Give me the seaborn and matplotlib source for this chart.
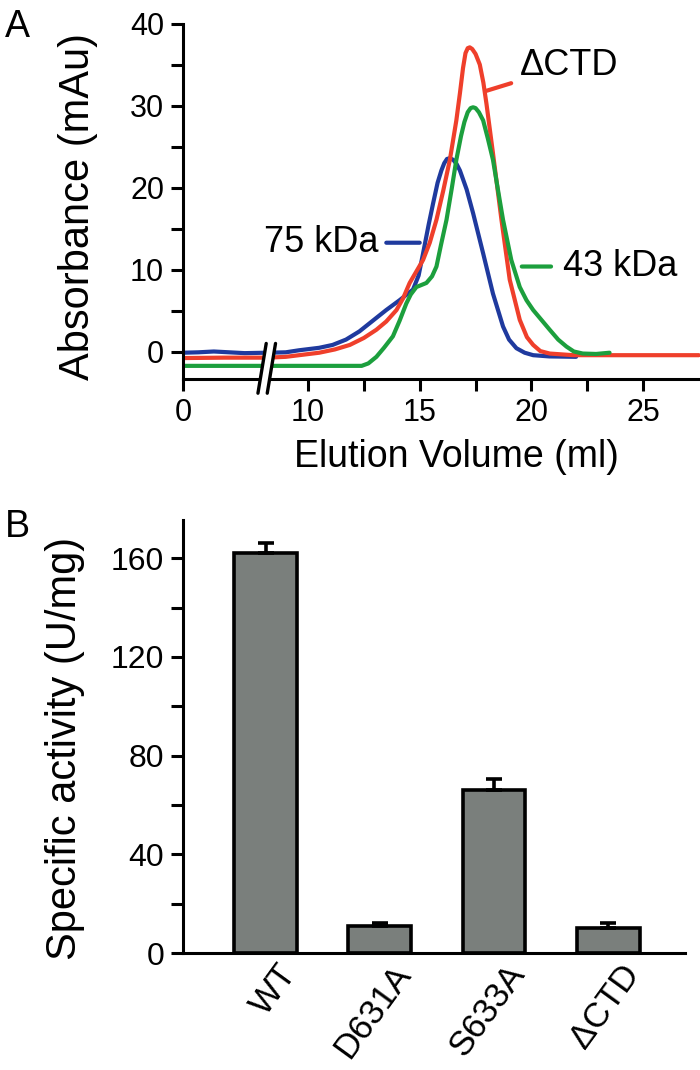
import numpy as np
import pandas as pd
import seaborn as sns
import matplotlib.pyplot as plt
import matplotlib.transforms as mtransforms

# ---- Panel A: gel filtration traces (elution volume in ml, absorbance in mAu)
blue_ml = [0, 1.5, 3, 4.5, 6, 8.1, 8.2, 9.0, 9.6, 10.5, 11.1, 11.7, 12.3, 12.9, 13.5, 14.1,
           14.7, 14.95, 15.15, 15.4, 15.6, 15.8, 15.97, 16.1, 16.22, 16.35, 16.5, 16.65,
           16.8, 17.1, 17.39, 17.84, 18.28, 18.73, 19.0, 19.33, 19.7, 20.08, 20.8, 22.0]
blue_mau = [-0.1, -0.05, 0.05, -0.05, -0.15, -0.1, -0.1, -0.05, 0.2, 0.5, 0.85, 1.5, 2.5, 3.8,
            5.1, 6.3, 7.6, 9.3, 12.0, 15.5, 18.1, 20.6, 22.1, 23.0, 23.5, 23.6, 23.4, 22.9,
            22.1, 19.8, 16.9, 12.0, 7.1, 3.1, 1.5, 0.45, -0.1, -0.4, -0.55, -0.6]

red_ml = [0, 4, 8.1, 8.2, 9.0, 9.6, 10.5, 11.2, 11.87, 12.5, 13.06, 13.5, 13.96, 14.25, 14.55,
          14.85, 15.15, 15.45, 15.75, 16.05, 16.35, 16.64, 16.8, 16.94, 17.05, 17.15, 17.24,
          17.35, 17.5, 17.69, 17.85, 17.99, 18.28, 18.66, 19.03, 19.48, 19.8, 20.08, 20.4,
          20.82, 21.87, 27.5]
red_mau = [-0.75, -0.7, -0.7, -0.7, -0.6, -0.4, -0.1, 0.3, 0.85, 1.7, 2.7, 3.7, 5.1, 6.5, 8.4,
           9.8, 11.2, 13.3, 16.1, 19.6, 23.4, 28.2, 31.5, 34.6, 36.4, 37.0, 37.1,
           36.9, 36.3, 35.0, 32.8, 30.2, 24.2, 16.1, 8.8, 3.9, 1.8, 0.85, 0.1,
           -0.2, -0.4, -0.4]

green_ml = [0, 8.1, 8.2, 12.4, 12.7, 13.06, 13.4, 13.8, 14.1, 14.4, 14.6, 14.85, 15.3, 15.55,
            15.75, 15.95, 16.2, 16.44, 16.64, 16.85, 17.0, 17.15, 17.28, 17.39, 17.5, 17.65,
            17.84, 18.05, 18.28, 18.5, 18.73, 19.1, 19.48, 19.78, 20.08, 20.45, 20.82, 21.2,
            21.57, 21.9, 22.3, 22.9, 23.5]
green_mau = [-1.7, -1.7, -1.7, -1.7, -1.4, -0.6, 0.5, 1.9, 3.8, 5.9, 7.0, 7.9, 8.4, 9.2,
             10.4, 13.0, 16.1, 20.0, 23.4, 26.3, 28.0, 29.2, 29.7, 29.8, 29.7, 29.2,
             28.2, 26.0, 23.4, 19.8, 16.1, 11.2, 7.9, 6.3, 5.1, 3.9, 2.7, 1.5,
             0.65, 0.05, -0.2, -0.25, -0.1]

trace_names = ['75 kDa', 'ΔCTD', '43 kDa']
trace_colors = ['#1f3a9e', '#ef3f2b', '#1c9f3d']

# ---- Panel B: specific activity
variants = ['WT', 'D631A', 'S633A', 'ΔCTD']
activity = [162, 11, 66, 10]
activity_err = [4.2, 1.0, 4.6, 2.2]

sns.set_style('ticks')
plt.rcParams['font.family'] = ['Liberation Sans', 'DejaVu Sans']
plt.rcParams.update({
    'axes.linewidth': 2.2,
    'axes.edgecolor': 'black',
    'axes.labelcolor': 'black',
    'text.color': 'black',
    'xtick.color': 'black',
    'ytick.color': 'black',
})

fig = plt.figure(figsize=(7, 10.7), dpi=100)
axA = fig.add_axes([0.2614, 0.6458, 0.7386, 0.3322])
axB = fig.add_axes([0.2614, 0.1093, 0.7171, 0.4047])

# broken x axis: the 0 - 8 ml stretch is squeezed into a short segment
X_BREAK = 8.15
U0 = 4.4


def fwd(x):
    x = np.asarray(x, dtype=float)
    return np.where(x < X_BREAK, U0 + x * (X_BREAK - U0) / X_BREAK, x)


def inv(u):
    u = np.asarray(u, dtype=float)
    return np.where(u < X_BREAK, (u - U0) * X_BREAK / (X_BREAK - U0), u)


df = pd.concat([
    pd.DataFrame({'ml': blue_ml, 'mAu': blue_mau, 'trace': trace_names[0]}),
    pd.DataFrame({'ml': red_ml, 'mAu': red_mau, 'trace': trace_names[1]}),
    pd.DataFrame({'ml': green_ml, 'mAu': green_mau, 'trace': trace_names[2]}),
])

axA.set_xscale('function', functions=(fwd, inv))
sns.lineplot(data=df, x='ml', y='mAu', hue='trace', hue_order=trace_names,
             palette=trace_colors, estimator=None, sort=False, legend=False,
             lw=3.0, ax=axA)
for ln in axA.get_lines():
    ln.set_solid_capstyle('round')
    ln.set_solid_joinstyle('round')

axA.set_xlim(0, 27.55)
axA.set_ylim(-3.3, 40)
axA.set_xticks([0, 10, 15, 20, 25])
axA.set_xticks([12.5, 17.5, 22.5], minor=True)
axA.set_xticklabels(['0', '10', '15', '20', '25'])
axA.set_yticks([0, 10, 20, 30, 40])
axA.set_yticks([5, 15, 25, 35], minor=True)
sns.despine(ax=axA)
axA.tick_params(which='both', direction='out', length=8.5, width=2.2,
                labelsize=22, pad=5)
axA.set_xlabel('Elution Volume (ml)', fontsize=27)
axA.set_ylabel('Absorbance (mAu)', fontsize=30)
axA.xaxis.set_label_coords(0.528, -0.17)
axA.yaxis.set_label_coords(-0.165, 0.486)

# break marks on the x axis
xb = axA.transAxes.inverted().transform(axA.transData.transform((X_BREAK, 0)))[0]
gap = 0.009
dx = 0.008
y0, y1 = -0.04, 0.10
axA.fill([xb - gap - dx, xb + gap - dx, xb + gap + dx, xb - gap + dx],
         [y0, y0, y1, y1], color='white', transform=axA.transAxes,
         clip_on=False, zorder=5, lw=0)
for s in (-gap, gap):
    axA.plot([xb + s - dx, xb + s + dx], [y0, y1], color='black', lw=2.4,
             transform=axA.transAxes, clip_on=False, zorder=6)

# trace labels with short leader lines
axA.annotate('75 kDa', xy=(15.0, 13.3), xytext=(13.17, 13.3), ha='right', va='center',
             fontsize=26, arrowprops=dict(arrowstyle='-', color=trace_colors[0], lw=3.0,
                                          shrinkA=3, shrinkB=0))
axA.annotate('ΔCTD', xy=(17.98, 31.8), xytext=(19.48, 34.9), ha='left', va='center',
             fontsize=26, arrowprops=dict(arrowstyle='-', color=trace_colors[1], lw=3.0,
                                          shrinkA=4, shrinkB=0))
axA.annotate('43 kDa', xy=(19.57, 10.4), xytext=(21.4, 10.4), ha='left', va='center',
             fontsize=26, arrowprops=dict(arrowstyle='-', color=trace_colors[2], lw=3.0,
                                          shrinkA=6, shrinkB=0))

# ---- Panel B
sns.barplot(x=variants, y=activity, color='#7a7f7c', saturation=1, width=0.55,
            edgecolor='black', linewidth=2.6, ax=axB)
axB.errorbar(range(len(variants)), activity,
             yerr=[np.zeros(len(activity)), activity_err],
             fmt='none', ecolor='black', elinewidth=2.6, capsize=5.5, capthick=2.6,
             zorder=1)
axB.set_xlim(-0.724, 3.672)
axB.set_ylim(0, 175.5)
axB.set_yticks([0, 40, 80, 120, 160])
axB.set_yticks([20, 60, 100, 140], minor=True)
sns.despine(ax=axB)
axB.tick_params(axis='y', which='both', direction='out', length=8.5, width=2.2,
                labelsize=23, pad=5)
axB.tick_params(axis='x', length=0, labelsize=25, pad=4)
shift = mtransforms.ScaledTranslation(8 / 72, 0, fig.dpi_scale_trans)
for lab in axB.get_xticklabels():
    lab.set_rotation(54)
    lab.set_ha('right')
    lab.set_va('top')
    lab.set_rotation_mode('anchor')
    lab.set_transform(lab.get_transform() + shift)
axB.set_ylabel('Specific activity (U/mg)', fontsize=30)
axB.yaxis.set_label_coords(-0.195, 0.473)
axB.set_xlabel('')

fig.text(0.007, 1 - 37 / 1070, 'A', fontsize=27, va='baseline')
fig.text(0.007, 1 - 537 / 1070, 'B', fontsize=27, va='baseline')

fig.savefig('out.png', dpi=100)
